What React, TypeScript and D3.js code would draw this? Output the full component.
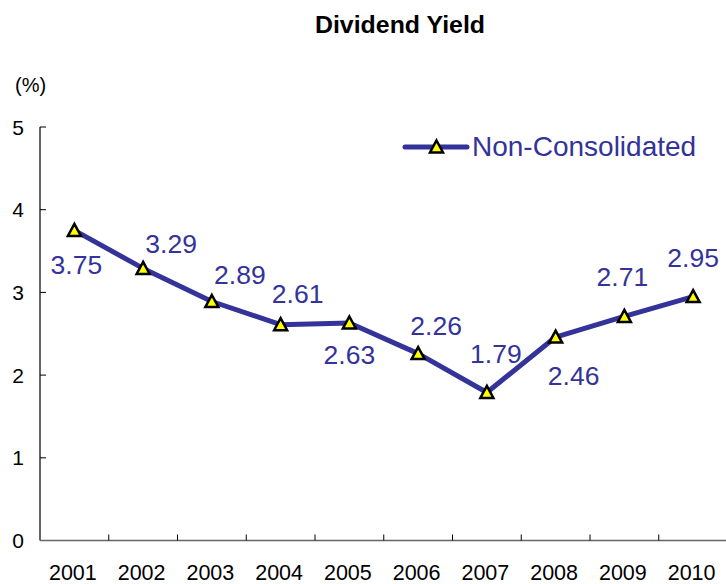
import React from "react";
import * as d3 from "d3";

const years = ["2001","2002","2003","2004","2005","2006","2007","2008","2009","2010"];
const yieldValues = [3.75, 3.29, 2.89, 2.61, 2.63, 2.26, 1.79, 2.46, 2.71, 2.95];
const yTicks = [0, 1, 2, 3, 4, 5];
const seriesName = "Non-Consolidated";
const title = "Dividend Yield";
const unitLabel = "(%)";

// label placement offsets (dx, dy of baseline relative to point)
const labelOffsets: [number, number][] = [
  [2, 44], [28, -15], [28, -17], [17, -22], [0, 41],
  [18, -19], [9, -29], [18, 48], [-2, -30], [0, -30],
];

const W = 726, H = 584;
const COLOR = "#333399";
const FONT = "'Liberation Sans', Arial, sans-serif";

function Tri({ x, y }: { x: number; y: number }) {
  const s = 6.5;
  const p = `M${x},${y - s}L${x + s},${y + s * 0.85}L${x - s},${y + s * 0.85}Z`;
  return <path d={p} fill="#ffff00" stroke="#000" strokeWidth={2.5} strokeLinejoin="miter" />;
}

export default function App() {
  const x = d3.scaleBand<string>().domain(years).range([40, 727.5]);
  const y = d3.scaleLinear().domain([0, 5]).range([540.5, 127]);
  const cx = (yr: string) => (x(yr) as number) + x.bandwidth() / 2;
  const line = d3.line<number>().x((_, i) => cx(years[i])).y((v) => y(v));
  const boundaries = years.map((yr) => (x(yr) as number) + x.bandwidth());

  return (
    <svg width={W} height={H} style={{ position: "absolute", left: 0, top: 0, background: "#fff" }} fontFamily={FONT}>
      <text x={400} y={33} textAnchor="middle" fontSize={23} fontWeight="bold" textLength={170} lengthAdjust="spacingAndGlyphs">{title}</text>
      <text x={15} y={92} fontSize={20}>{unitLabel}</text>

      {/* y axis */}
      <line x1={40} x2={40} y1={y(5)} y2={y(0)} stroke="#000" strokeWidth={1.2} />
      {yTicks.map((t) => (
        <g key={t}>
          <line x1={40} x2={46} y1={y(t)} y2={y(t)} stroke="#000" strokeWidth={1} />
          <text x={24} y={y(t) + 7.5} textAnchor="end" fontSize={21}>{t}</text>
        </g>
      ))}

      {/* x axis */}
      <line x1={40} x2={727.5} y1={y(0)} y2={y(0)} stroke="#666" strokeWidth={1.5} />
      {boundaries.map((b, i) => (
        <line key={i} x1={b} x2={b} y1={y(0)} y2={y(0) - 6} stroke="#000" strokeWidth={1} />
      ))}
      {years.map((yr) => (
        <text key={yr} x={cx(yr) - 1.5} y={580} textAnchor="middle" fontSize={21.5}>{yr}</text>
      ))}

      {/* series */}
      <path d={line(yieldValues) || ""} fill="none" stroke={COLOR} strokeWidth={5} strokeLinejoin="round" />
      {yieldValues.map((v, i) => (
        <Tri key={i} x={cx(years[i])} y={y(v)} />
      ))}
      {yieldValues.map((v, i) => (
        <text key={"l" + i} x={cx(years[i]) + labelOffsets[i][0]} y={y(v) + labelOffsets[i][1]} textAnchor="middle" fontSize={26.5} fill={COLOR}>
          {v.toFixed(2)}
        </text>
      ))}

      {/* legend */}
      <line x1={405} x2={467} y1={147} y2={147} stroke={COLOR} strokeWidth={5} strokeLinecap="round" />
      <Tri x={436.5} y={147} />
      <text x={472} y={156} fontSize={28} fill={COLOR}>{seriesName}</text>
    </svg>
  );
}
